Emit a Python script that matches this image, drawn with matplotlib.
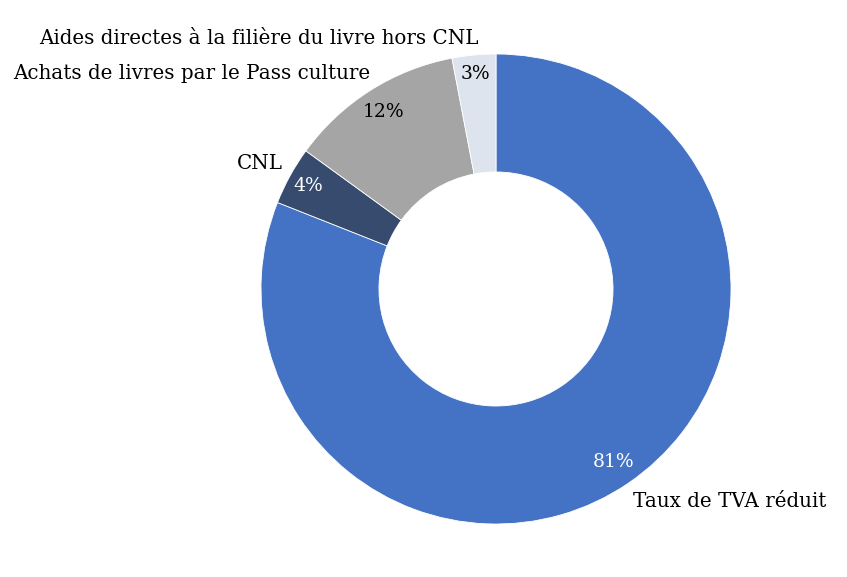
import matplotlib.pyplot as plt
import numpy as np

labels = ["Taux de TVA réduit", "CNL", "Achats de livres par le Pass culture",
          "Aides directes à la filière du livre hors CNL"]
values = [81, 4, 12, 3]
colors = ["#4472C4", "#364B6D", "#A5A5A5", "#DEE4EE"]
pct_colors = ["white", "white", "black", "black"]
pct_radius = [0.89, 0.91, 0.89, 0.92]

# label anchor points (data units, radius = 1), alignment
label_pos = [(0.996, -0.906, "center"), (-0.906, 0.532, "right"),
             (-0.536, 0.915, "right"), (-0.076, 1.068, "right")]

plt.rcParams['font.family'] = ['DejaVu Serif']

fig = plt.figure(figsize=(8.47, 5.77), dpi=100)
ax = fig.add_axes([0, 0, 1, 1])

wedges, _ = ax.pie(values, startangle=90, counterclock=False, colors=colors,
                   radius=1.0, wedgeprops=dict(width=0.502, edgecolor="white", linewidth=0.6))

total = sum(values)
ang = 90.0
for v, r, c in zip(values, pct_radius, pct_colors):
    mid = np.deg2rad(ang - v / total * 360 / 2)
    ang -= v / total * 360
    ax.text(r * np.cos(mid), r * np.sin(mid), f"{v}%", ha="center", va="center",
            fontsize=13.5, color=c)

for lab, (x, y, ha) in zip(labels, label_pos):
    ax.text(x, y, lab, ha=ha, va="center", fontsize=14.3, color="black")

ax.set_xlim(-496 / 235, (847 - 496) / 235)
ax.set_ylim(-(577 - 289) / 235, 289 / 235)
ax.set_aspect("auto")
ax.axis("off")

fig.savefig("out.png", dpi=100)
